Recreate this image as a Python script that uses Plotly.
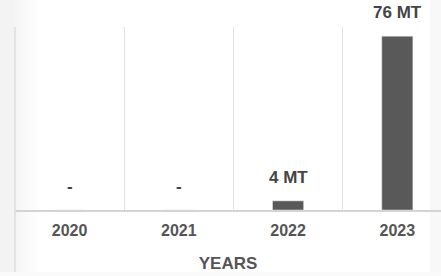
import plotly.graph_objects as go

years = ["2020", "2021", "2022", "2023"]
values = [0, 0, 4, 76]
labels = ["-", "-", "4 MT", "76 MT"]
axis_title = "YEARS"

FONT = "Liberation Sans, Arial, sans-serif"
BAR = "#595959"
TXT = "#454545"

W, H = 441, 276
L, T, B = 15, 27, 66
PW, PH = W - L, H - T - B


def px(fx):
    return (fx - L) / PW


def py(fy):
    return (H - B - fy) / PH


fig = go.Figure()
fig.add_trace(go.Bar(x=years, y=values, marker_color=BAR, width=0.285, hoverinfo="skip"))

for i, (v, lab) in enumerate(zip(values, labels)):
    fig.add_annotation(x=i, y=v, xref="x", yref="y", text=lab, showarrow=False,
                       yanchor="bottom", yshift=12,
                       font=dict(family=FONT, size=17, color=TXT, weight="bold"))

shapes = []
shapes.append(dict(type="rect", xref="paper", yref="paper", layer="below",
                   x0=px(0), x1=px(15), y0=py(H), y1=py(0),
                   fillcolor="#f3f3f3", line_width=0))
grads = ["#f5f5f5", "#f7f7f7", "#f9f9f9", "#fafafa", "#fcfcfc", "#fdfdfd"]
for i, c in enumerate(grads):
    shapes.append(dict(type="rect", xref="paper", yref="paper", layer="below",
                       x0=px(15 + i * 4), x1=px(15 + (i + 1) * 4), y0=py(H), y1=py(0),
                       fillcolor=c, line_width=0))
shapes.append(dict(type="rect", xref="paper", yref="paper", layer="below",
                   x0=px(430), x1=px(W), y0=py(H), y1=py(0),
                   fillcolor="#f8f8f8", line_width=0))
shapes.append(dict(type="rect", xref="paper", yref="paper", layer="below",
                   x0=px(0), x1=px(W), y0=py(H), y1=py(272),
                   fillcolor="#fafafa", line_width=0))
shapes.append(dict(type="line", xref="paper", yref="paper", x0=0, x1=0,
                   y0=py(272), y1=1, line=dict(color="#dedede", width=1.5)))
fig.update_layout(shapes=shapes)

fig.update_layout(
    width=W, height=H,
    margin=dict(l=L, r=0, t=T, b=B, autoexpand=False),
    paper_bgcolor="white", plot_bgcolor="white",
    showlegend=False, hovermode=False,
    xaxis=dict(type="category", range=[-0.5, 3.4], tickson="boundaries",
               showgrid=True, gridcolor="#e3e3e3", gridwidth=1,
               showline=True, linecolor="#d4d4d4", linewidth=1.5,
               ticks="", ticklabelstandoff=5, automargin=False, fixedrange=True,
               tickfont=dict(family=FONT, size=16, color="#555555", weight="bold"),
               title=dict(text=axis_title, standoff=19,
                          font=dict(family=FONT, size=17, color="#555555", weight="bold"))),
    yaxis=dict(range=[0, 80], showgrid=False, zeroline=False, showticklabels=False,
               showline=False, automargin=False, fixedrange=True),
)

fig.write_html("out.html", config={"displayModeBar": False, "staticPlot": True},
               post_script="document.body.style.margin='0';document.body.style.overflow='hidden';")
